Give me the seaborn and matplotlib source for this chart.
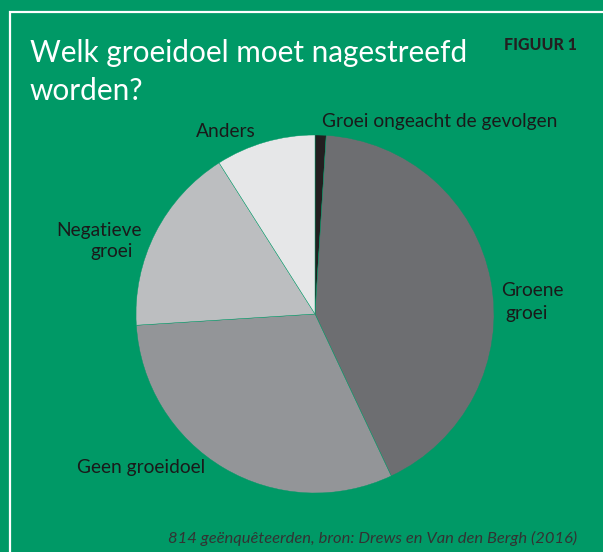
import matplotlib
matplotlib.use("Agg")
import matplotlib.pyplot as plt
import seaborn as sns
from matplotlib.patches import Rectangle

sns.set_theme(style="white")
plt.rcParams['font.family'] = ['Lato', 'DejaVu Sans']

# data
categories = ["Groei ongeacht de gevolgen", "Groene groei", "Geen groeidoel",
              "Negatieve groei", "Anders"]
values = [1, 42, 31, 17, 9]
colors = ["#231f20", "#6d6e71", "#939598", "#bcbec0", "#e6e7e8"]
title = "Welk groeidoel moet nagestreefd\nworden?"
figure_tag = "FIGUUR 1"
source = "814 geënquêteerden, bron: Drews en Van den Bergh (2016)"

GREEN = "#009966"
W, H = 603, 552
fig = plt.figure(figsize=(W / 100, H / 100), dpi=100, facecolor=GREEN)

# white frame (left and top edges visible)
fig.patches.append(Rectangle((10 / W, -0.1), 1.2, (H - 12) / H + 0.1,
                             transform=fig.transFigure, fill=False,
                             edgecolor="white", linewidth=1.6, zorder=0))

cx, cy, r = 315, 314, 179
ax = fig.add_axes([(cx - r) / W, (H - cy - r) / H, 2 * r / W, 2 * r / H])
ax.set_facecolor(GREEN)
ax.pie(values, colors=colors, startangle=90, counterclock=False, radius=1,
       wedgeprops=dict(edgecolor=GREEN, linewidth=0.3))
ax.set_xlim(-1, 1)
ax.set_ylim(-1, 1)
ax.set_aspect("equal")
ax.axis("off")

def ftext(x, y, s, **kw):
    fig.text(x / W, 1 - y / H, s, **kw)

ftext(30, 72, title, color="white", fontsize=21.4, ha="left", va="center",
      linespacing=1.45)
ftext(577, 45, figure_tag, color="#231f20", fontsize=11.5, fontweight="black",
      ha="right", va="center")

lab = dict(color="#1a1a1a", fontsize=13.8, va="center")
ftext(322, 122, categories[0], ha="left", **lab)
ftext(532, 290, "Groene", ha="center", **lab)
ftext(527, 313, "groei", ha="center", **lab)
ftext(77, 467, categories[2], ha="left", **lab)
ftext(142, 230, "Negatieve", ha="right", **lab)
ftext(133, 252, "groei", ha="right", **lab)
ftext(226, 131, categories[4], ha="center", **lab)

ftext(577, 538, source, color="#333333", fontsize=11.85, style="italic",
      ha="right", va="center")

fig.savefig("out.png", dpi=100, facecolor=GREEN)
